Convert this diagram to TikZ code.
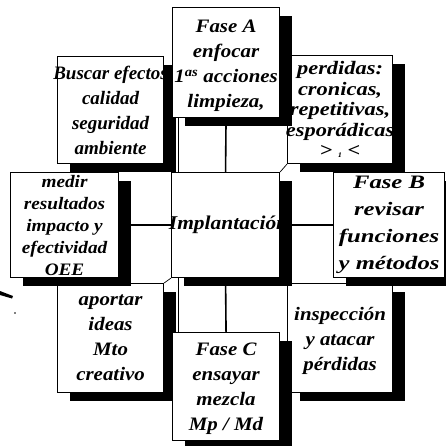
\documentclass[tikz,border=0pt]{standalone}
\usepackage{fontspec}
\setmainfont{Liberation Serif}
\newfontfamily\strA{Liberation Serif}[FakeStretch=1.1]
\newfontfamily\strB{Liberation Serif}[FakeStretch=1.18]
\newfontfamily\strC{Liberation Serif}[FakeStretch=1.3]
\usetikzlibrary{shadows}
\begin{document}
\begin{tikzpicture}[x=1pt,y=-1pt,
  boxnode/.style={draw=black, line width=1.1pt, fill=white, anchor=north west,
    inner sep=0pt,
    drop shadow={shadow xshift=12pt, shadow yshift=-8pt, fill=black, opacity=1}},
  txt/.style={inner sep=0pt, align=center,
    font=\strA\bfseries\itshape\fontsize{19}{25}\selectfont},
  conn/.style={line width=1.6pt},
  thinline/.style={line width=0.7pt}]
\fill[white] (0,0) rectangle (445,446);
\useasboundingbox (0,0) rectangle (445,446);
% top row
\node[boxnode, minimum width=106pt, minimum height=107pt] (buscar) at (57,56) {};
\node[txt, font=\bfseries\itshape\fontsize{19}{25}\selectfont] (buscarT) at (buscar.center)
  {Buscar efectos\\calidad\\seguridad\\ambiente};
\node[boxnode, minimum width=105pt, minimum height=108pt] (perdidas) at (287,55) {};
\node[txt, font=\strB\bfseries\itshape\fontsize{19}{20.5}\selectfont] (perdidasT) at (perdidas.center)
  {perdidas:\\cronicas,\\repetitivas,\\esporádicas\\> \raisebox{-1pt}{\scriptsize 1} <};
\node[boxnode, minimum width=107pt, minimum height=110pt] (faseA) at (172,7) {};
\node[txt] (faseAT) at ([yshift=-3pt]faseA.center)
  {Fase A\\enfocar\\1\textsuperscript{as} acciones\\limpieza,};
% bottom row (behind middle row shadows)
\node[boxnode, minimum width=106pt, minimum height=109pt] (aportar) at (57,283) {};
\node[txt] (aportarT) at (aportar.center) {aportar\\ideas\\Mto\\creativo};
\node[boxnode, minimum width=105pt, minimum height=109pt] (insp) at (287,283) {};
\node[txt] (inspT) at ([yshift=-3pt]insp.center) {inspección\\y atacar\\pérdidas};
% middle row
\node[boxnode, minimum width=108pt, minimum height=105pt] (medir) at (10,172) {};
\node[txt, font=\strA\bfseries\itshape\fontsize{17.5}{22}\selectfont] (medirT) at (medir.center)
  {medir\\resultados\\impacto y\\efectividad\\OEE};
\node[boxnode, minimum width=108pt, minimum height=105pt] (impl) at (171,172) {};
\node[txt, font=\strA\bfseries\itshape\fontsize{19.5}{25}\selectfont] (implT) at ([xshift=3pt]impl.center)
  {Implantación};
\node[boxnode, minimum width=111pt, minimum height=105pt] (faseB) at (333,172) {};
\node[txt, font=\strC\bfseries\itshape\fontsize{19}{27}\selectfont] (faseBT) at (faseB.center)
  {Fase B\\revisar\\funciones\\y métodos};
\node[boxnode, minimum width=107pt, minimum height=108pt] (faseC) at (172,332) {};
\node[txt] (faseCT) at ([yshift=-2pt]faseC.center) {Fase C\\ensayar\\mezcla\\Mp / Md};
% connectors
\draw[conn] (faseA.south) -- (impl.north);
\draw[conn] (impl.south) -- (faseC.north);
\draw[conn] (medir.east) -- (impl.west);
\draw[conn] (impl.east) -- (faseB.west);
% thin outline lines
\draw[thinline] ([xshift=6pt]faseA.south west) -- ([xshift=6pt]faseA.south west |- impl.north);
\draw[thinline] ([xshift=7pt]impl.south west) -- ([xshift=7pt]impl.south west |- faseC.north);
\draw[thinline] (perdidas.south west) -- (impl.north east);
\draw[thinline] (impl.south west) -- (aportar.north east);
% stray mark
\fill (0,291) -- (13,296) -- (12,298.5) -- (0,295) -- cycle;
\fill (15,313) circle (0.8);
\end{tikzpicture}
\end{document}
